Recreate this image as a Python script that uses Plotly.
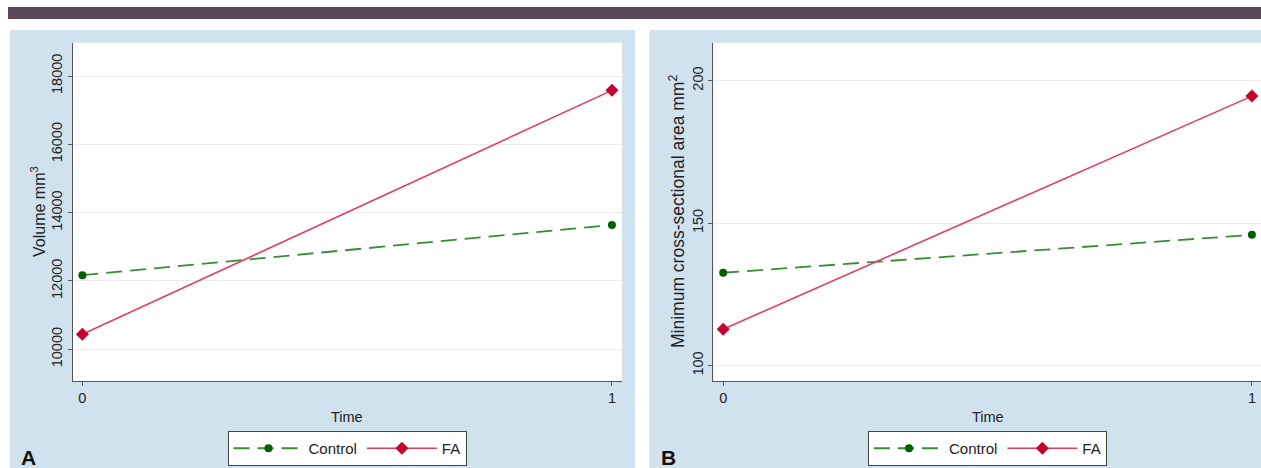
import plotly.graph_objects as go

W, H = 1261, 468

# ---- data ----
time = [0, 1]
vol_control = [12170, 13640]
vol_fa = [10440, 17580]
mcsa_control = [132.6, 145.9]
mcsa_fa = [112.8, 194.6]
vol_ticks = [10000, 12000, 14000, 16000, 18000]
mcsa_ticks = [100, 150, 200]
time_ticks = [0, 1]
series_names = ["Control", "FA"]
panel_labels = ["A", "B"]
y_titles = ["Volume mm<sup>3</sup>", "Minimum cross-sectional area mm<sup>2</sup>"]


def px(x):
    return x / W


def py(y):
    return 1 - y / H


GREEN_LINE = "#3a8c3a"
GREEN_MK = "#006000"
RED_LINE = "#e0405e"
RED_MK = "#c6002f"
BLUE_BG = "#d0e2ee"
AXIS = "#555555"
TXT = "#222222"
FONT = "Liberation Sans"

fig = go.Figure()

panels = [
    dict(xa="x", ya="y", leg="legend", c=vol_control, f=vol_fa),
    dict(xa="x2", ya="y2", leg="legend2", c=mcsa_control, f=mcsa_fa),
]
for p in panels:
    fig.add_trace(go.Scatter(
        x=time, y=p["c"], name=series_names[0], xaxis=p["xa"], yaxis=p["ya"],
        legend=p["leg"], mode="lines+markers", cliponaxis=False,
        line=dict(color=GREEN_LINE, width=1.8, dash="16px,8px"),
        marker=dict(symbol="circle", size=8, color=GREEN_MK),
    ))
    fig.add_trace(go.Scatter(
        x=time, y=p["f"], name=series_names[1], xaxis=p["xa"], yaxis=p["ya"],
        legend=p["leg"], mode="lines+markers", cliponaxis=False,
        line=dict(color=RED_LINE, width=1.6),
        marker=dict(symbol="diamond", size=10, color=RED_MK),
    ))

top, bottom = 42.7, 381.0
A_l, A_r = 72.7, 622.0
B_l, B_r = 713.3, 1261.0

common_x = dict(showgrid=False, zeroline=False, showline=True, linecolor=AXIS,
                linewidth=1, ticks="outside", ticklen=4, tickcolor=AXIS,
                tickvals=time_ticks, tickfont=dict(size=14.5, color=TXT, family=FONT))
common_y = dict(showgrid=True, gridcolor="#ebebeb", gridwidth=1, zeroline=False,
                showline=True, linecolor=AXIS, linewidth=1, ticks="outside",
                ticklen=4, tickcolor=AXIS, tickangle=-90, tickformat="d",
                tickfont=dict(size=14.5, color=TXT, family=FONT))

leg_common = dict(orientation="h", y=py(448.5), xanchor="center", yanchor="middle",
                  bgcolor="white", bordercolor="#444444", borderwidth=1,
                  font=dict(size=15, color=TXT, family=FONT), itemwidth=70,
                  tracegroupgap=0)

fig.update_layout(
    width=W, height=H,
    margin=dict(l=0, r=0, t=0, b=0),
    paper_bgcolor="white",
    plot_bgcolor="white",
    font=dict(family=FONT, color=TXT),
    xaxis=dict(common_x, domain=[px(A_l), px(A_r)], range=[-0.0183, 1.019], anchor="y"),
    yaxis=dict(common_y, domain=[py(bottom), py(top)], range=[9072, 18975],
               tickvals=vol_ticks, anchor="x"),
    xaxis2=dict(common_x, domain=[px(B_l), px(B_r)], range=[-0.0187, 1.0172], anchor="y2"),
    yaxis2=dict(common_y, domain=[py(bottom), py(top)], range=[94.6, 213.35],
                tickvals=mcsa_ticks, anchor="x2"),
    legend=dict(leg_common, x=px(347)),
    legend2=dict(leg_common, x=px(987.5)),
)

shapes = [
    dict(type="rect", xref="paper", yref="paper", x0=px(8), x1=px(1261), y0=py(19), y1=py(7),
         fillcolor="#5a4858", line=dict(width=0), layer="below"),
    dict(type="rect", xref="paper", yref="paper", x0=px(10), x1=px(635), y0=py(468), y1=py(30),
         fillcolor=BLUE_BG, line=dict(width=0), layer="below"),
    dict(type="rect", xref="paper", yref="paper", x0=px(649.5), x1=px(1261), y0=py(468), y1=py(30),
         fillcolor=BLUE_BG, line=dict(width=0), layer="below"),
    dict(type="rect", xref="paper", yref="paper", x0=px(A_l), x1=px(A_r), y0=py(bottom), y1=py(top),
         fillcolor="white", line=dict(width=0), layer="below"),
    dict(type="rect", xref="paper", yref="paper", x0=px(B_l), x1=px(B_r), y0=py(bottom), y1=py(top),
         fillcolor="white", line=dict(width=0), layer="below"),
]
fig.update_layout(shapes=shapes)

annotations = [
    dict(text=y_titles[0], x=px(38), y=py(212), xref="paper", yref="paper", textangle=-90,
         showarrow=False, font=dict(size=16, color=TXT, family=FONT), xanchor="center", yanchor="middle"),
    dict(text=y_titles[1], x=px(677), y=py(212), xref="paper", yref="paper", textangle=-90,
         showarrow=False, font=dict(size=17.5, color=TXT, family=FONT), xanchor="center", yanchor="middle"),
    dict(text="Time", x=px((A_l + A_r) / 2), y=py(416.5), xref="paper", yref="paper",
         showarrow=False, font=dict(size=14.5, color=TXT, family=FONT), xanchor="center", yanchor="middle"),
    dict(text="Time", x=px((B_l + 1262.6) / 2), y=py(416.5), xref="paper", yref="paper",
         showarrow=False, font=dict(size=14.5, color=TXT, family=FONT), xanchor="center", yanchor="middle"),
    dict(text="<b>" + panel_labels[0] + "</b>", x=px(28), y=py(457), xref="paper", yref="paper",
         showarrow=False, font=dict(size=21, color="#111111", family=FONT), xanchor="center", yanchor="middle"),
    dict(text="<b>" + panel_labels[1] + "</b>", x=px(668), y=py(457), xref="paper", yref="paper",
         showarrow=False, font=dict(size=21, color="#111111", family=FONT), xanchor="center", yanchor="middle"),
]
fig.update_layout(annotations=annotations)

fig.write_html(
    "out.html",
    config={"displayModeBar": False},
    post_script="document.body.style.margin='0px';document.body.style.padding='0px';"
                "document.body.style.overflow='hidden';",
)
